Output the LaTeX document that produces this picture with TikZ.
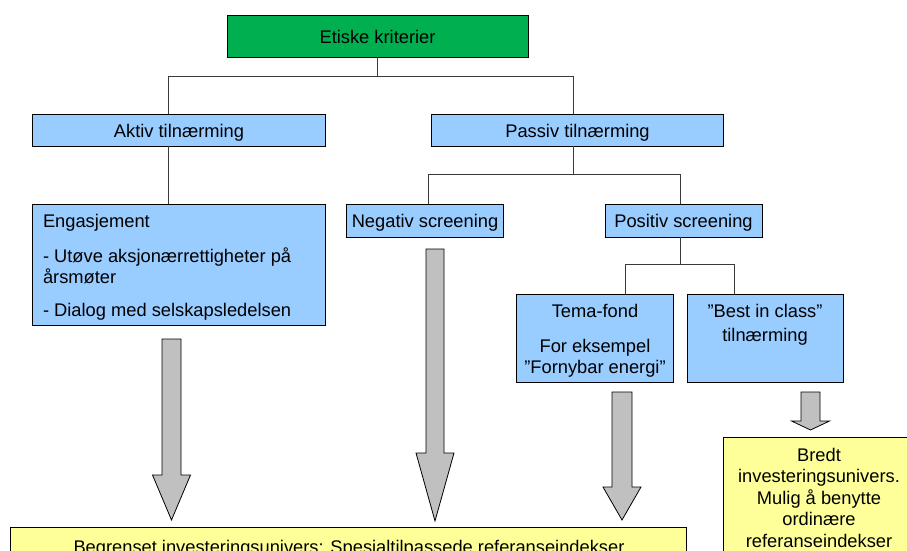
\documentclass[tikz,border=0pt]{standalone}
\usepackage{fontspec}
\setmainfont{Liberation Sans}
\definecolor{boxgreen}{HTML}{00B050}
\definecolor{boxblue}{HTML}{99CCFF}
\definecolor{boxyellow}{HTML}{FFFF99}
\definecolor{arrowgray}{HTML}{C0C0C0}
\definecolor{linegray}{HTML}{3A3A3A}
\newcommand\blkarrow[6]{\draw[blk] (#1-#5,#2) -- (#1+#5,#2) -- (#1+#5,#3) -- (#1+#6,#3) -- (#1,#4) -- (#1-#6,#3) -- (#1-#5,#3) -- cycle;}
\begin{document}
\begin{tikzpicture}[x=1pt,y=-1pt,
  box/.style={draw=black, line width=1pt, inner sep=0pt, outer sep=0pt},
  gbox/.style={box, fill=boxgreen},
  bbox/.style={box, fill=boxblue},
  ybox/.style={box, fill=boxyellow},
  txt/.style={inner sep=0pt, outer sep=0pt, font=\fontsize{18.3}{22}\selectfont},
  ctxt/.style={txt, anchor=base},
  ltxt/.style={txt, anchor=base west},
  conn/.style={draw=linegray, line width=1pt},
  blk/.style={draw=black, fill=arrowgray, line width=0.8pt, line join=miter}]
\useasboundingbox (0,0) rectangle (907,551);
\clip (0,0) rectangle (907,551);
\fill[white] (0,0) rectangle (907,551);

% boxes
\node[gbox, minimum width=301pt, minimum height=42pt] (etiske) at (377.5,37) {};
\node[bbox, minimum width=293pt, minimum height=32pt] (aktiv) at (178.5,130) {};
\node[bbox, minimum width=292pt, minimum height=32pt] (passiv) at (577,130) {};
\node[bbox, minimum width=293pt, minimum height=121pt] (eng) at (178.5,264.5) {};
\node[bbox, minimum width=157pt, minimum height=33pt] (neg) at (424.5,220.5) {};
\node[bbox, minimum width=157pt, minimum height=33pt] (pos) at (683.5,220.5) {};
\node[bbox, minimum width=157pt, minimum height=88pt] (tema) at (594.5,338) {};
\node[bbox, minimum width=156pt, minimum height=88pt] (best) at (765,338) {};
\node[ybox, minimum width=676pt, minimum height=53pt] (begr) at (348,553.5) {};
\node[ybox, minimum width=190pt, minimum height=143pt] (bredt) at (818,508.5) {};

% texts
\node[ctxt] (t1) at (377.5,44) {Etiske kriterier};
\node[ctxt] (t2) at (179,137) {Aktiv tilnærming};
\node[ctxt] (t3) at (577.5,137) {Passiv tilnærming};
\node[ltxt] (t4) at (43,227) {Engasjement};
\node[ltxt] (t5) at (43,262) {- Utøve aksjonærrettigheter på};
\node[ltxt] (t6) at (43,283) {årsmøter};
\node[ltxt] (t7) at (43,316) {- Dialog med selskapsledelsen};
\node[ctxt] (t8) at (425,227) {Negativ screening};
\node[ctxt] (t9) at (683.5,227) {Positiv screening};
\node[ctxt] (t10) at (595,317) {Tema-fond};
\node[ctxt] (t11) at (595,352) {For eksempel};
\node[ctxt] (t12) at (595,373) {”Fornybar energi”};
\node[ctxt] (t13) at (765,317) {”Best in class”};
\node[ctxt] (t14) at (765,341) {tilnærming};
\node[ctxt] (t15) at (819,461) {Bredt};
\node[ctxt] (t16) at (819,482.5) {investeringsunivers.};
\node[ctxt] (t17) at (819,504) {Mulig å benytte};
\node[ctxt] (t18) at (819,525.5) {ordinære};
\node[ctxt] (t19) at (819,547) {referanseindekser};
\node[ctxt] (t20) at (349,553) {Begrenset investeringsunivers: Spesialtilpassede referanseindekser};

% connectors
\coordinate (ja) at (168,76);
\coordinate (jp) at (573,76);
\coordinate (jn) at (428,174);
\coordinate (jpos) at (680,174);
\coordinate (jt) at (625,264);
\coordinate (jb) at (734,264);
\draw[conn] (etiske.south) -- (etiske.south |- ja);
\draw[conn] (aktiv.north -| ja) -- (ja) -- (jp) -- (passiv.north -| jp);
\draw[conn] (aktiv.south -| ja) -- (eng.north -| ja);
\draw[conn] (passiv.south -| jp) -- (jp |- jn);
\draw[conn] (neg.north -| jn) -- (jn) -- (jpos) -- (pos.north -| jpos);
\draw[conn] (pos.south -| jpos) -- (jpos |- jt);
\draw[conn] (tema.north -| jt) -- (jt) -- (jb) -- (best.north -| jb);

% block arrows
\blkarrow{171.5}{339}{475}{520}{9.5}{19}
\blkarrow{435}{249}{453}{521}{9}{19}
\blkarrow{622}{392}{487}{520}{10}{19}
\blkarrow{810.5}{392}{421}{430}{9.5}{19}
\end{tikzpicture}
\end{document}
